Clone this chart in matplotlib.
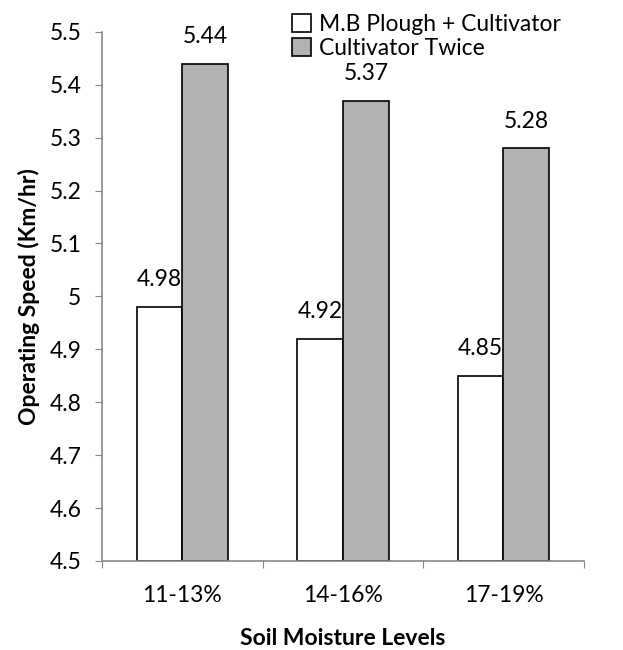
import numpy as np
import matplotlib
matplotlib.use("Agg")
import matplotlib.pyplot as plt

plt.rcParams['font.family'] = ['Lato', 'DejaVu Sans']

levels = ['11-13%', '14-16%', '17-19%']
plough_cultivator = [4.98, 4.92, 4.85]
cultivator_twice = [5.44, 5.37, 5.28]
series_names = ['M.B Plough + Cultivator', 'Cultivator Twice']

fs = 16.5
fig = plt.figure(figsize=(6.23, 6.5), dpi=100)
ax = fig.add_axes([0.164, 0.137, 0.773, 0.814])

x = np.arange(len(levels))
w = 0.286
b1 = ax.bar(x - w / 2, np.array(plough_cultivator) - 4.5, w, bottom=4.5,
            color='white', edgecolor='black', linewidth=1.2, label=series_names[0])
b2 = ax.bar(x + w / 2, np.array(cultivator_twice) - 4.5, w, bottom=4.5,
            color='#b2b2b2', edgecolor='black', linewidth=1.2, label=series_names[1])

# value labels above each bar
for xs, vals in ((x - w / 2, plough_cultivator), (x + w / 2, cultivator_twice)):
    for xi, v in zip(xs, vals):
        ax.annotate('%.2f' % v, (xi, v), xytext=(0, 12), textcoords='offset points',
                    ha='center', va='bottom', fontsize=fs)

ax.set_xlim(-0.5, 2.5)
ax.set_ylim(4.5, 5.5)
ax.set_yticks(np.arange(4.5, 5.51, 0.1))
ax.set_yticklabels(['4.5', '4.6', '4.7', '4.8', '4.9', '5', '5.1', '5.2', '5.3', '5.4', '5.5'])
ax.set_xticks([-0.5, 0.5, 1.5, 2.5])
ax.set_xticklabels([])
ax.set_xticks(x, minor=True)
ax.set_xticklabels(levels, minor=True)
ax.tick_params(axis='x', which='minor', length=0, pad=17, labelsize=fs)
ax.tick_params(axis='x', which='major', length=5, color='#878787', direction='out')
ax.tick_params(axis='y', length=5, color='#878787', labelsize=fs, pad=10)

for s in ('top', 'right'):
    ax.spines[s].set_visible(False)
for s in ('left', 'bottom'):
    ax.spines[s].set_color('#878787')
    ax.spines[s].set_linewidth(1.2)

ax.set_ylabel('Operating Speed (Km/hr)', fontsize=fs, fontweight='bold', labelpad=7)
ax.set_xlabel('Soil Moisture Levels', fontsize=fs, fontweight='bold', labelpad=16)

fig.legend(handles=[b1, b2], loc='upper left', bbox_to_anchor=(0.447, 1.0),
           frameon=False, fontsize=fs, handlelength=0.8, handleheight=0.8,
           handletextpad=0.35, labelspacing=0.15, borderaxespad=0.2)

fig.savefig('out.png', dpi=100)
